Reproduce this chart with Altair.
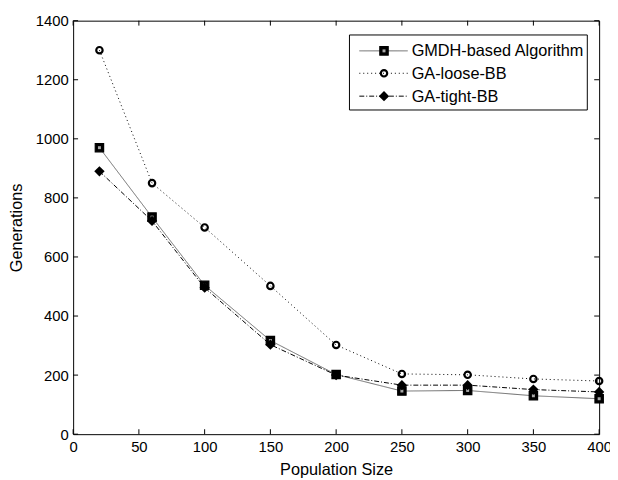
import altair as alt
import pandas as pd

# ---- data ----
pop = [20, 60, 100, 150, 200, 250, 300, 350, 400]
gmdh = [970, 735, 504, 317, 202, 146, 148, 130, 120]
loose = [1300, 850, 700, 502, 302, 204, 201, 187, 180]
tight = [890, 722, 496, 303, 200, 166, 166, 151, 143]
series = ["GMDH-based Algorithm", "GA-loose-BB", "GA-tight-BB"]
x_ticks = [0, 50, 100, 150, 200, 250, 300, 350, 400]
y_ticks = [0, 200, 400, 600, 800, 1000, 1200, 1400]

W, H = 533, 419
FONT = "Liberation Sans"

rows = []
for name, vals in zip(series, [gmdh, loose, tight]):
    for p, v in zip(pop, vals):
        rows.append({"pop": p, "gen": v, "series": name})
df = pd.DataFrame(rows)

xs = alt.Scale(domain=[0, 400], nice=False, zero=False)
ys = alt.Scale(domain=[0, 1400], nice=False)

dash = {
    series[0]: [1, 0],
    series[1]: [1, 3],
    series[2]: [5, 2, 1, 2],
}
lcol = {series[0]: "#6a6a6a", series[1]: "#000000", series[2]: "#000000"}

layers = []

# axes carrier (invisible) layer
base = alt.Chart(df).mark_point(opacity=0).encode(
    x=alt.X("pop:Q", scale=xs,
            axis=alt.Axis(values=x_ticks, format="d", tickSize=0, domain=False, grid=False,
                          labelPadding=6, title="Population Size",
                          titleY=41, titleBaseline="alphabetic", labelFlush=False)),
    y=alt.Y("gen:Q", scale=ys,
            axis=alt.Axis(values=y_ticks, format="d", tickSize=0, domain=False, grid=False,
                          labelPadding=5, title="Generations",
                          titleX=-52, titleY=H / 2, titleAngle=-90,
                          titleBaseline="alphabetic", titleAlign="center")),
)
layers.append(base)

# inward ticks on all four sides
xt = pd.DataFrame({"t": x_ticks})
yt = pd.DataFrame({"t": y_ticks})
layers.append(alt.Chart(xt).mark_rule(color="black", strokeWidth=1).encode(
    x=alt.X("t:Q", scale=xs), y=alt.value(H), y2=alt.value(H - 5)))
layers.append(alt.Chart(xt).mark_rule(color="black", strokeWidth=1).encode(
    x=alt.X("t:Q", scale=xs), y=alt.value(0), y2=alt.value(5)))
layers.append(alt.Chart(yt).mark_rule(color="black", strokeWidth=1).encode(
    y=alt.Y("t:Q", scale=ys), x=alt.value(0), x2=alt.value(5)))
layers.append(alt.Chart(yt).mark_rule(color="black", strokeWidth=1).encode(
    y=alt.Y("t:Q", scale=ys), x=alt.value(W), x2=alt.value(W - 5)))

# series lines and markers
for name in series:
    sub = df[df.series == name]
    layers.append(alt.Chart(sub).mark_line(
        color=lcol[name], strokeWidth=1, strokeDash=dash[name]).encode(
        x=alt.X("pop:Q", scale=xs), y=alt.Y("gen:Q", scale=ys)))


def markers(data, x=None, y=None, name=None):
    enc_x = x if x is not None else alt.X("pop:Q", scale=xs)
    enc_y = y if y is not None else alt.Y("gen:Q", scale=ys)
    out = []
    if name == series[0]:
        out.append(alt.Chart(data).mark_point(
            shape="square", size=72, filled=True, color="black",
            stroke="black", strokeWidth=1.2, opacity=1).encode(x=enc_x, y=enc_y))
        out.append(alt.Chart(data).mark_point(
            shape="square", size=9, filled=True, color="#a8a8a8",
            opacity=1).encode(x=enc_x, y=enc_y))
    elif name == series[1]:
        out.append(alt.Chart(data).mark_point(
            shape="circle", size=42, filled=False, color="black",
            strokeWidth=2.2, opacity=1).encode(x=enc_x, y=enc_y))
    else:
        out.append(alt.Chart(data).mark_point(
            shape="diamond", size=110, filled=True, color="black",
            opacity=1).encode(x=enc_x, y=enc_y))
    return out


for name in series:
    layers += markers(df[df.series == name], name=name)

# legend (manual, MATLAB style)
one = pd.DataFrame({"k": [0]})
layers.append(alt.Chart(one).mark_rect(
    fill="white", stroke="black", strokeWidth=1).encode(
    x=alt.value(280), x2=alt.value(521), y=alt.value(14.5), y2=alt.value(90.5)))
row_y = [30.6, 53.3, 76.5]
for name, yy in zip(series, row_y):
    layers.append(alt.Chart(one).mark_rule(
        color=lcol[name], strokeWidth=1, strokeDash=dash[name]).encode(
        x=alt.value(290), x2=alt.value(339), y=alt.value(yy)))
    layers += markers(one, x=alt.value(315), y=alt.value(yy), name=name)
    layers.append(alt.Chart(one).mark_text(
        align="left", baseline="middle", font=FONT, fontSize=16.5,
        color="black").encode(
        x=alt.value(343), y=alt.value(yy + 0.5), text=alt.value(name)))

chart = alt.layer(*layers).properties(
    width=W, height=H,
    padding={"left": 66, "top": 9.7, "right": 11, "bottom": 45},
    autosize=alt.AutoSizeParams(type="none"),
    background="white",
).configure_view(
    stroke="black", strokeWidth=1
).configure_axis(
    labelFont=FONT, labelFontSize=15, labelColor="black",
    titleFont=FONT, titleFontSize=16.5, titleFontWeight="normal", titleColor="black",
)

chart.save("out.html", embed_options={"renderer": "svg", "actions": False})
